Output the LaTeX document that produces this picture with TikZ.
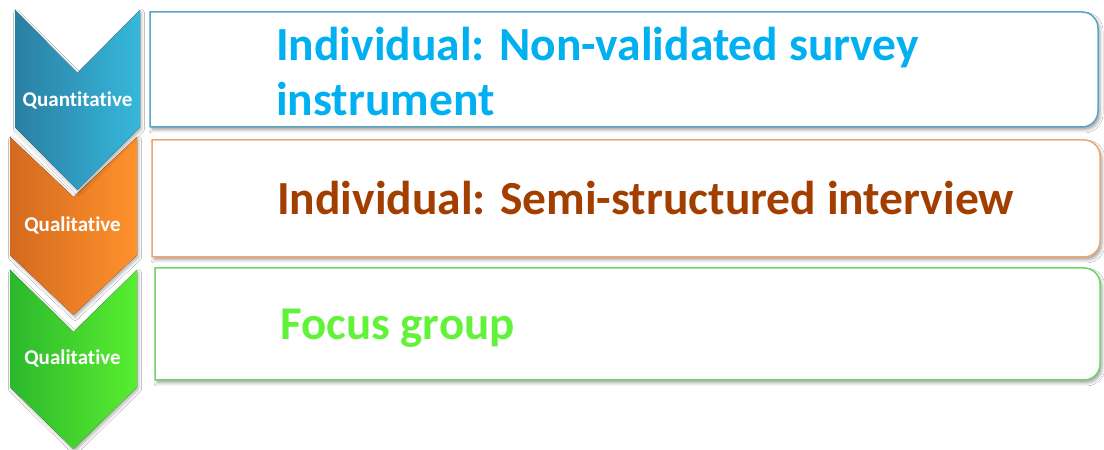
\documentclass[tikz,border=0pt]{standalone}
\usepackage{fontspec}
\setmainfont{Carlito}[Ligatures=NoCommon]
\usetikzlibrary{shadows.blur}

\definecolor{chevBlueL}{HTML}{2A7FA3}
\definecolor{chevBlueR}{HTML}{36B8DB}
\definecolor{chevOrangeL}{HTML}{D46A1E}
\definecolor{chevOrangeR}{HTML}{FF922C}
\definecolor{chevGreenL}{HTML}{2CB82C}
\definecolor{chevGreenR}{HTML}{58EE30}
\definecolor{edgeBlue}{HTML}{5AA6C4}
\definecolor{edgeOrange}{HTML}{F0A672}
\definecolor{edgeGreen}{HTML}{74D46A}
\definecolor{txtBlue}{HTML}{00B0F0}
\definecolor{txtBrown}{HTML}{A23F00}
\definecolor{txtGreen}{HTML}{62F23A}

\tikzset{
  chevron/.style={draw=none, blur shadow={shadow xshift=1.5pt, shadow yshift=-2.5pt, shadow blur radius=3pt, shadow opacity=30}},
  panel/.style={fill=white, line width=1.5pt, blur shadow={shadow xshift=2pt, shadow yshift=-3pt, shadow blur radius=3pt, shadow opacity=35}},
  chevlabel/.style={text=white, font=\fontsize{21}{24}\selectfont\bfseries, inner sep=0pt},
  maintext/.style={font=\fontsize{47.5}{55}\selectfont\bfseries, inner sep=0pt, align=left, anchor=west},
}

% chevron: left x, right x, top y, side height, point depth
\newcommand{\chevronpath}[5]{%
  (#1,#3) -- ({(#1+#2)/2},{#3-#5}) -- (#2,#3) -- (#2,{#3-#4})
  -- ({(#1+#2)/2},{#3-#4-#5}) -- (#1,{#3-#4}) -- cycle}

% panel with square left corners and rounded right corners
\newcommand{\panelpath}[5]{%
  (#1,#3) -- ({#2-#5},#3) arc[start angle=-90, end angle=0, radius=#5]
  -- (#2,{#4-#5}) arc[start angle=0, end angle=90, radius=#5]
  -- (#1,#4) -- cycle}

\begin{document}
\begin{tikzpicture}[x=1pt, y=1pt]
  \fill[white] (0,0) rectangle (1104,450);
  \useasboundingbox (0,0) rectangle (1104,450);

  % panels
  \draw[panel, draw=edgeBlue]   \panelpath{150}{1098}{323}{438}{16};
  \draw[panel, draw=edgeOrange] \panelpath{152}{1100}{193}{310}{16};
  \draw[panel, draw=edgeGreen]  \panelpath{155}{1100}{70}{182}{16};

  % chevrons, lowest first so each one overlaps the next
  \fill[chevron, left color=chevGreenL, right color=chevGreenR]   \chevronpath{10}{137}{180}{117}{62};
  \fill[chevron, left color=chevOrangeL, right color=chevOrangeR] \chevronpath{10}{137}{313}{118}{60};
  \fill[chevron, left color=chevBlueL, right color=chevBlueR]     \chevronpath{15}{140}{440}{117}{63};

  % chevron labels
  \node[chevlabel] (lab1) at (77.5,350) {Quantitative};
  \node[chevlabel] (lab2) at (72.5,225) {Qualitative};
  \node[chevlabel] (lab3) at (72.5,92) {Qualitative};

  % panel texts
  \node[maintext, text=txtBlue]  (t1) at (276,378) {Individual: Non-validated survey\\instrument};
  \node[maintext, text=txtBrown] (t2) at (277,252) {Individual: Semi-structured interview};
  \node[maintext, text=txtGreen, font=\fontsize{47}{54}\selectfont\bfseries] (t3) at (280,122) {Focus group};
\end{tikzpicture}
\end{document}
